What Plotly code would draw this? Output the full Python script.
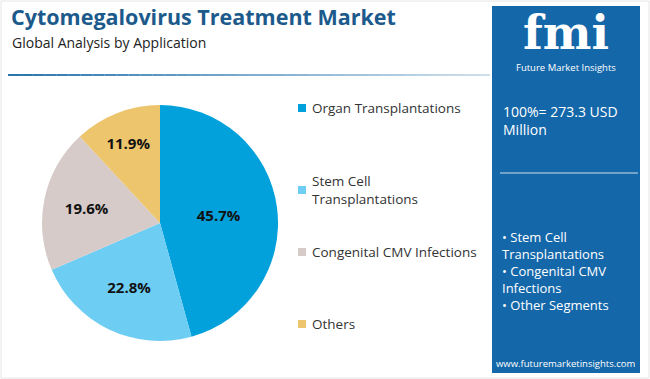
import plotly.graph_objects as go

categories = ["Organ Transplantations", "Stem Cell Transplantations", "Congenital CMV Infections", "Others"]
legend_labels = ["Organ Transplantations", "Stem Cell<br>Transplantations", "Congenital CMV Infections", "Others"]
shares = [45.7, 22.8, 19.6, 11.9]
colors = ["#03a1dc", "#6ecdf3", "#d6cbc8", "#edc56c"]
total_text = "100%= 273.3 USD<br>Million"
other_segments = ["Stem Cell<br>Transplantations", "Congenital CMV<br>Infections", "Other Segments"]

FONT = "Open Sans, Lato, sans-serif"
W, H = 650, 379
fig = go.Figure()
fig.add_trace(go.Pie(
    labels=categories, values=shares, sort=False, direction="clockwise", rotation=0,
    marker=dict(colors=colors, line=dict(width=0)),
    texttemplate="%{value:.1f}%", textinfo="text", textposition="inside",
    insidetextorientation="horizontal",
    textfont=dict(family=FONT, size=15, color="#111111", weight="bold"),
    domain=dict(x=[(160-118)/W, (160+118)/W], y=[(156-118)/H, (156+118)/H]),
    showlegend=False, hoverinfo="label+percent",
))

def px(x): return x / W
def py(y): return 1 - y / H

shapes = []
ann = []
shapes.append(dict(type="rect", xref="paper", yref="paper", x0=px(1), x1=px(649), y0=py(378), y1=py(1),
                   line=dict(color="#e6e6e6", width=1)))
n = 40
for i in range(n):
    x0 = 8 + (490 - 8) * i / n
    x1 = 8 + (490 - 8) * (i + 1) / n
    a = 0.95 - 0.75 * i / n
    shapes.append(dict(type="line", xref="paper", yref="paper", x0=px(x0), x1=px(x1), y0=py(75), y1=py(75),
                       line=dict(color=f"rgba(30,110,170,{a:.2f})", width=2)))
shapes.append(dict(type="rect", xref="paper", yref="paper", x0=px(492), x1=px(640), y0=py(373), y1=py(6),
                   fillcolor="#1467a9", line=dict(width=0), layer="below"))
shapes.append(dict(type="line", xref="paper", yref="paper", x0=px(500), x1=px(638), y0=py(173), y1=py(173),
                   line=dict(color="rgba(255,255,255,0.8)", width=1)))

ann.append(dict(text="<b>Cytomegalovirus Treatment Market</b>", x=px(9), y=py(17), xanchor="left", yanchor="middle",
                font=dict(family=FONT, size=21.5, color="#1c5a8c"), showarrow=False))
ann.append(dict(text="Global Analysis by Application", x=px(10), y=py(42), xanchor="left", yanchor="middle",
                font=dict(family=FONT, size=14, color="#222222"), showarrow=False))

leg_y = [108, 190, 252, 324]
for lab, col, yy in zip(legend_labels, colors, leg_y):
    shapes.append(dict(type="rect", xref="paper", yref="paper", x0=px(298), x1=px(306), y0=py(yy + 4), y1=py(yy - 4),
                       fillcolor=col, line=dict(width=0)))
    ann.append(dict(text=lab, x=px(310), y=py(yy), xanchor="left", yanchor="middle", align="left",
                    font=dict(family=FONT, size=13.5, color="#333333"), showarrow=False))

ann.append(dict(text="fmi", x=px(566), y=py(33), xanchor="center", yanchor="middle",
                font=dict(family="DejaVu Serif, serif", size=46, color="white", weight="bold"), showarrow=False))
ann.append(dict(text="Future Market Insights", x=px(566), y=py(68), xanchor="center", yanchor="middle",
                font=dict(family=FONT, size=9.5, color="white"), showarrow=False))
ann.append(dict(text=total_text, x=px(501), y=py(120), xanchor="left", yanchor="middle", align="left",
                font=dict(family=FONT, size=14, color="white"), showarrow=False))
seg_text = "<br>".join("• " + s for s in other_segments)
ann.append(dict(text=seg_text, x=px(500), y=py(271), xanchor="left", yanchor="middle", align="left",
                font=dict(family=FONT, size=13, color="white"), showarrow=False))
ann.append(dict(text="www.futuremarketinsights.com", x=px(566), y=py(363), xanchor="center", yanchor="middle",
                font=dict(family=FONT, size=9.5, color="white"), showarrow=False))

fig.update_layout(width=W, height=H, margin=dict(l=0, r=0, t=0, b=0),
                  paper_bgcolor="white", plot_bgcolor="white", shapes=shapes, annotations=ann)
fig.write_html("out.html", config={"displayModeBar": False},
               post_script="document.body.style.margin='0';")
